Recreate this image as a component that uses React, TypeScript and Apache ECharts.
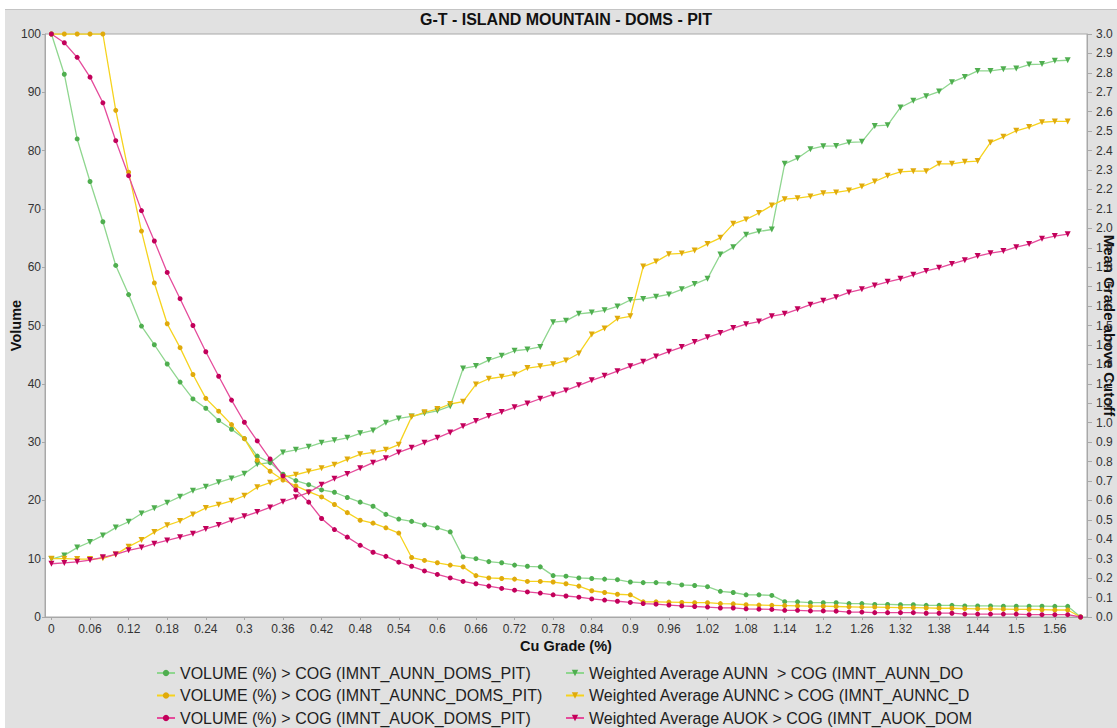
import React, { useEffect, useRef } from 'react';
import * as echarts from 'echarts';

const cuGrade = [
  '0', '0.02', '0.04', '0.06', '0.08', '0.1', '0.12', '0.14', '0.16', '0.18',
  '0.2', '0.22', '0.24', '0.26', '0.28', '0.3', '0.32', '0.34', '0.36', '0.38',
  '0.4', '0.42', '0.44', '0.46', '0.48', '0.5', '0.52', '0.54', '0.56', '0.58',
  '0.6', '0.62', '0.64', '0.66', '0.68', '0.7', '0.72', '0.74', '0.76', '0.78',
  '0.8', '0.82', '0.84', '0.86', '0.88', '0.9', '0.92', '0.94', '0.96', '0.98',
  '1', '1.02', '1.04', '1.06', '1.08', '1.1', '1.12', '1.14', '1.16', '1.18',
  '1.2', '1.22', '1.24', '1.26', '1.28', '1.3', '1.32', '1.34', '1.36', '1.38',
  '1.4', '1.42', '1.44', '1.46', '1.48', '1.5', '1.52', '1.54', '1.56', '1.58',
  '1.6',
];

const volAUNN = [
  100, 93.1, 82.0, 74.7, 67.8, 60.3, 55.3, 49.9, 46.7, 43.4,
  40.3, 37.4, 35.8, 33.7, 32.2, 30.6, 27.6, 26.5, 24.5, 23.4,
  22.7, 21.8, 21.4, 20.5, 19.7, 19.0, 17.6, 16.8, 16.4, 15.8,
  15.3, 14.6, 10.3, 10.0, 9.5, 9.3, 8.9, 8.7, 8.6, 7.1,
  7.0, 6.7, 6.6, 6.5, 6.4, 6.0, 5.9, 5.9, 5.8, 5.5,
  5.4, 5.2, 4.4, 4.2, 3.8, 3.8, 3.7, 2.63, 2.6, 2.45,
  2.45, 2.45, 2.3, 2.3, 2.15, 2.15, 2.1, 2.1, 2.0, 2.0,
  2.0, 1.9, 1.9, 1.9, 1.85, 1.85, 1.85, 1.85, 1.83, 1.83,
  0,
];

const volAUNNC = [
  100, 100, 100, 100, 100, 86.9, 76.3, 66.2, 57.3, 50.3,
  46.2, 41.6, 37.5, 35.3, 33.0, 30.6, 26.9, 25.0, 23.5, 22.5,
  21.5, 20.6, 19.3, 17.9, 16.6, 16.1, 15.3, 14.4, 10.2, 9.7,
  9.3, 8.9, 8.6, 7.1, 6.7, 6.6, 6.5, 6.1, 6.1, 6.0,
  5.7, 5.3, 4.5, 4.2, 3.9, 3.8, 2.6, 2.6, 2.55, 2.5,
  2.45, 2.45, 2.3, 2.25, 2.1, 2.05, 2.0, 1.95, 1.9, 1.85,
  1.85, 1.8, 1.75, 1.7, 1.7, 1.65, 1.6, 1.6, 1.55, 1.5,
  1.5, 1.45, 1.4, 1.4, 1.35, 1.3, 1.3, 1.25, 1.2, 1.2,
  0,
];

const volAUOK = [
  100, 98.5, 96.0, 92.6, 88.2, 81.7, 75.7, 69.7, 64.5, 59.1,
  54.6, 50.0, 45.5, 41.3, 37.2, 33.4, 30.2, 27.1, 24.2, 21.8,
  19.7, 16.9, 15.0, 13.7, 12.3, 11.1, 10.4, 9.4, 8.7, 7.9,
  7.3, 6.7, 6.1, 5.7, 5.3, 4.9, 4.6, 4.3, 4.1, 3.8,
  3.6, 3.4, 3.1, 2.9, 2.7, 2.5, 2.3, 2.2, 2.05, 1.9,
  1.8, 1.7, 1.55, 1.55, 1.4, 1.35, 1.3, 1.15, 1.15, 1.05,
  1.05, 1.0, 0.85, 0.85, 0.75, 0.75, 0.75, 0.75, 0.65, 0.65,
  0.65, 0.5, 0.5, 0.5, 0.5, 0.5, 0.4, 0.4, 0.4, 0.4,
  0,
];

const waAUNN = [
  0.298, 0.317, 0.357, 0.386, 0.42, 0.46, 0.49, 0.533, 0.559, 0.588,
  0.619, 0.65, 0.67, 0.693, 0.713, 0.737, 0.786, 0.794, 0.847, 0.86,
  0.876, 0.897, 0.909, 0.922, 0.945, 0.96, 1.0, 1.022, 1.032, 1.048,
  1.061, 1.085, 1.279, 1.291, 1.322, 1.344, 1.37, 1.377, 1.39, 1.517,
  1.524, 1.56, 1.567, 1.578, 1.598, 1.631, 1.637, 1.648, 1.66, 1.686,
  1.713, 1.741, 1.865, 1.903, 1.967, 1.984, 1.994, 2.332, 2.361, 2.407,
  2.423, 2.424, 2.442, 2.445, 2.527, 2.531, 2.622, 2.656, 2.68, 2.704,
  2.752, 2.779, 2.81, 2.81, 2.819, 2.822, 2.843, 2.845, 2.862, 2.865,
];

const waAUNNC = [
  0.3, 0.3, 0.298, 0.298, 0.302, 0.322, 0.362, 0.396, 0.437, 0.472,
  0.494, 0.528, 0.561, 0.578, 0.598, 0.624, 0.668, 0.691, 0.72, 0.732,
  0.749, 0.765, 0.784, 0.811, 0.837, 0.847, 0.86, 0.887, 1.03, 1.053,
  1.07, 1.096, 1.108, 1.197, 1.226, 1.236, 1.248, 1.281, 1.29, 1.3,
  1.32, 1.356, 1.454, 1.485, 1.535, 1.547, 1.803, 1.829, 1.867, 1.871,
  1.886, 1.92, 1.951, 2.023, 2.046, 2.079, 2.118, 2.15, 2.155, 2.164,
  2.181, 2.185, 2.195, 2.215, 2.241, 2.27, 2.291, 2.294, 2.294, 2.332,
  2.332, 2.342, 2.346, 2.442, 2.471, 2.502, 2.521, 2.546, 2.55, 2.55,
];

const waAUOK = [
  0.274, 0.278, 0.284, 0.293, 0.307, 0.322, 0.343, 0.357, 0.377, 0.394,
  0.411, 0.429, 0.453, 0.473, 0.497, 0.518, 0.54, 0.564, 0.593, 0.616,
  0.641, 0.681, 0.711, 0.736, 0.765, 0.794, 0.817, 0.847, 0.871, 0.897,
  0.922, 0.95, 0.981, 1.008, 1.034, 1.055, 1.079, 1.099, 1.123, 1.145,
  1.166, 1.192, 1.218, 1.241, 1.265, 1.29, 1.313, 1.341, 1.365, 1.389,
  1.415, 1.439, 1.461, 1.487, 1.507, 1.52, 1.548, 1.56, 1.583, 1.607,
  1.627, 1.646, 1.67, 1.686, 1.706, 1.725, 1.74, 1.761, 1.781, 1.797,
  1.817, 1.836, 1.857, 1.872, 1.883, 1.903, 1.919, 1.946, 1.96, 1.97,
];

const volumeNames = [
  'VOLUME (%) > COG (IMNT_AUNN_DOMS_PIT)',
  'VOLUME (%) > COG (IMNT_AUNNC_DOMS_PIT)',
  'VOLUME (%) > COG (IMNT_AUOK_DOMS_PIT)',
];
const weightedNames = [
  'Weighted Average AUNN  > COG (IMNT_AUNN_DOMS_PIT)',
  'Weighted Average AUNNC > COG (IMNT_AUNNC_DOMS_PIT)',
  'Weighted Average AUOK > COG (IMNT_AUOK_DOMS_PIT)',
];

const lineColors = ['#8fd68f', '#f6d31e', '#e54b9b'];
const markColors = ['#4fae4f', '#e0aa0c', '#c2005a'];

const FONT = "'Liberation Sans', Arial, sans-serif";

export default function App() {
  const ref = useRef<HTMLDivElement>(null);

  useEffect(() => {
    if (!ref.current) return;
    const chart = echarts.init(ref.current, undefined, { renderer: 'svg' });
    const volData = [volAUNN, volAUNNC, volAUOK];
    const waData = [waAUNN, waAUNNC, waAUOK];
    const series: any[] = [];
    for (let k = 0; k < 3; k++) {
      series.push({
        name: volumeNames[k],
        type: 'line',
        yAxisIndex: 0,
        data: volData[k],
        symbol: 'circle',
        symbolSize: 5,
        showSymbol: true,
        showAllSymbol: true,
        lineStyle: { color: lineColors[k], width: 1.3 },
        itemStyle: { color: markColors[k] },
        emphasis: { disabled: true },
      });
      series.push({
        name: weightedNames[k],
        type: 'line',
        yAxisIndex: 1,
        data: waData[k],
        symbol: 'triangle',
        symbolRotate: 180,
        symbolSize: 6,
        showSymbol: true,
        showAllSymbol: true,
        lineStyle: { color: lineColors[k], width: 1.3 },
        itemStyle: { color: markColors[k] },
        emphasis: { disabled: true },
      });
    }

    const legendBase = {
      orient: 'vertical',
      top: 665,
      padding: 0,
      itemWidth: 18,
      itemHeight: 8,
      itemGap: 6.5,
      selectedMode: false,
      textStyle: { fontFamily: FONT, fontSize: 16, color: '#1e1e1e' },
    };

    chart.setOption({
      animation: false,
      backgroundColor: '#e1e1e1',
      textStyle: { fontFamily: FONT },
      graphic: [
        { type: 'rect', shape: { x: 0, y: 0, width: 1117, height: 9 }, style: { fill: '#ffffff' }, silent: true },
        { type: 'rect', shape: { x: 0, y: 0, width: 5, height: 728 }, style: { fill: '#ffffff' }, silent: true },
        { type: 'line', shape: { x1: 5, y1: 9.5, x2: 1117, y2: 9.5 }, style: { stroke: '#c4c4c4', lineWidth: 1 }, silent: true },
        {
          type: 'text',
          x: 566,
          y: 19,
          style: {
            text: 'G-T - ISLAND MOUNTAIN - DOMS - PIT',
            font: `bold 16px ${FONT}`,
            fill: '#111111',
            textAlign: 'center',
            textVerticalAlign: 'middle',
          },
          silent: true,
        },
      ],
      grid: {
        left: 45,
        right: 30,
        top: 34,
        bottom: 111,
        containLabel: false,
        outerBoundsMode: 'none',
        show: true,
        backgroundColor: '#ffffff',
        borderColor: '#a8a8a8',
        borderWidth: 1,
      },
      legend: [
        { ...legendBase, left: 156, data: volumeNames },
        {
          ...legendBase,
          left: 565,
          data: weightedNames,
          textStyle: { ...legendBase.textStyle, width: 389, overflow: 'truncate', ellipsis: '' },
        },
      ],
      xAxis: {
        type: 'category',
        data: cuGrade,
        boundaryGap: true,
        name: 'Cu Grade (%)',
        nameLocation: 'middle',
        nameGap: 21,
        nameMoveOverlap: false,
        nameTextStyle: { fontFamily: FONT, fontSize: 14.5, fontWeight: 'bold', color: '#111' },
        axisLine: { lineStyle: { color: '#a8a8a8' } },
        axisTick: { show: true, interval: 2, alignWithLabel: true, length: 3, lineStyle: { color: '#a8a8a8' } },
        axisLabel: { interval: 2, margin: 6, fontFamily: FONT, fontSize: 12, color: '#333' },
        splitLine: { show: false },
      },
      yAxis: [
        {
          type: 'value',
          min: 0,
          max: 100,
          interval: 10,
          name: 'Volume',
          nameLocation: 'middle',
          nameGap: 22,
          nameMoveOverlap: false,
          nameTextStyle: { fontFamily: FONT, fontSize: 14.5, fontWeight: 'bold', color: '#111' },
          axisLine: { show: true, lineStyle: { color: '#a8a8a8' } },
          axisTick: { show: true, length: 3, lineStyle: { color: '#a8a8a8' } },
          axisLabel: { margin: 4, fontFamily: FONT, fontSize: 12, color: '#333' },
          splitLine: { show: false },
        },
        {
          type: 'value',
          position: 'right',
          min: 0,
          max: 3,
          interval: 0.1,
          name: 'Mean Grade above Cutoff',
          nameLocation: 'middle',
          nameRotate: -90,
          nameGap: 14.5,
          nameMoveOverlap: false,
          nameTextStyle: { fontFamily: FONT, fontSize: 15, fontWeight: 'bold', color: '#111' },
          axisLine: { show: true, lineStyle: { color: '#a8a8a8' } },
          axisTick: { show: true, length: 5, lineStyle: { color: '#a8a8a8' } },
          axisLabel: {
            margin: 9,
            fontFamily: FONT,
            fontSize: 12,
            color: '#333',
            formatter: (v: number) => v.toFixed(1),
          },
          splitLine: { show: false },
        },
      ],
      series,
    });

    return () => chart.dispose();
  }, []);

  return (
    <div
      ref={ref}
      style={{ position: 'absolute', left: 0, top: 0, width: 1117, height: 728 }}
    />
  );
}
